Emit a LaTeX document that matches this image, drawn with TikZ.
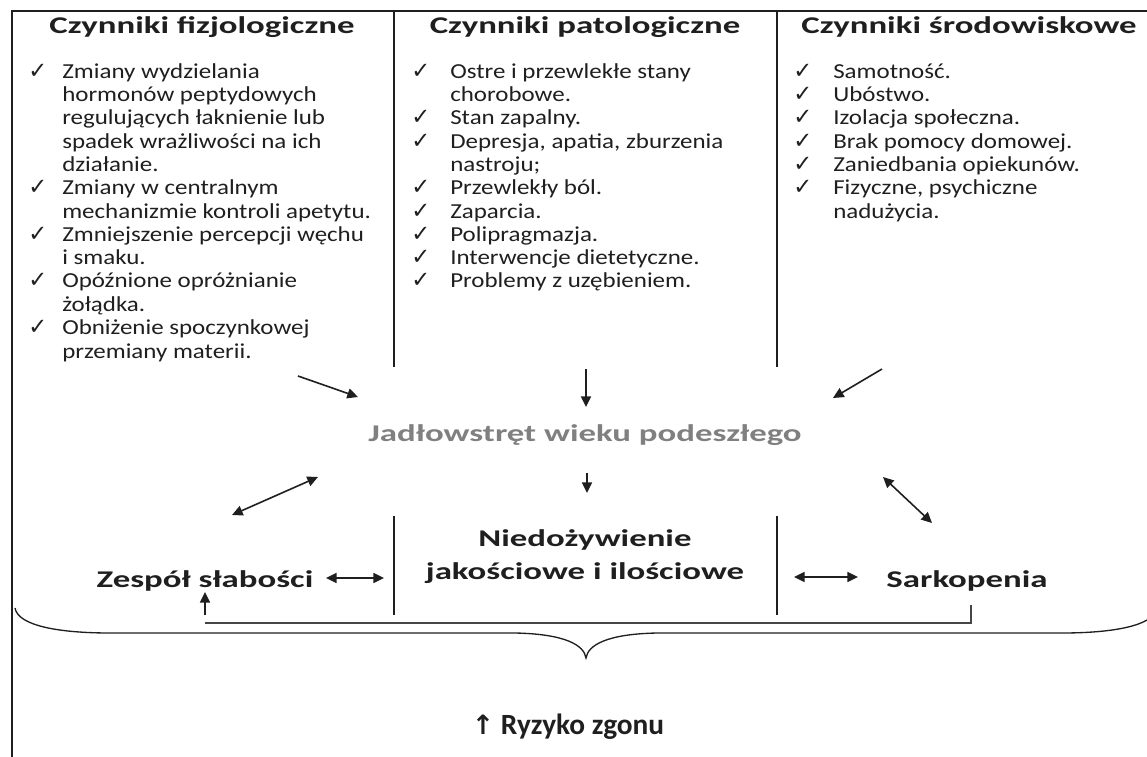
\documentclass[tikz,border=0pt]{standalone}
\usepackage{fontspec}
\setmainfont{Carlito}
\newfontfamily\bodyfont{Carlito}[FakeStretch=1.17]
\newfontfamily\widefont{Carlito}[FakeStretch=1.45]
\newfontfamily\symfont{DejaVu Sans}
\usetikzlibrary{arrows.meta}
\definecolor{ink}{HTML}{1F1F1F}
\definecolor{paleink}{HTML}{808080}
\definecolor{ruleink}{HTML}{454545}
\newcommand{\chk}{{\symfont\fontsize{17}{17}\selectfont ✓}}
\begin{document}
\begin{tikzpicture}[x=0.75pt, y=-0.75pt,
  every node/.style={inner sep=0pt, text=ink},
  head/.style={anchor=base, font=\widefont\bfseries\fontsize{18}{21}\selectfont},
  itemlist/.style={anchor=base west, font=\bodyfont\fontsize{16}{17.5}\selectfont},
  outcome/.style={align=center, font=\widefont\bfseries\fontsize{18}{24.75}\selectfont},
  frameline/.style={ink, line width=1.5pt},
  arr/.style={ink, line width=1.2pt, -{Triangle[length=8pt,width=7.5pt]}},
  darr/.style={ink, line width=1.2pt, {Triangle[length=8pt,width=7.5pt]}-{Triangle[length=8pt,width=7.5pt]}}]
  \useasboundingbox (0,0) rectangle (1147,757);
  \draw[frameline] (12,757) -- (12,11) -- (1147,11);
  \draw[frameline] (394,11) -- (394,367) (777,11) -- (777,367);
  \draw[ink, line width=1.2pt] (394,516) -- (394,615) (777,516) -- (777,615);

  \node[head] (fizjo) at (202,33) {Czynniki fizjologiczne};
  \node[head] (pato) at (585,33) {Czynniki patologiczne};
  \node[head] (srodo) at (969,33) {Czynniki środowiskowe};

  \node[itemlist] (fizjolist) at (28,78) {\begin{tabular}[t]{@{}p{25.5pt}@{}l@{}}
    \chk & Zmiany wydzielania\\
         & hormonów peptydowych\\
         & regulujących łaknienie lub\\
         & spadek wrażliwości na ich\\
         & działanie.\\
    \chk & Zmiany w centralnym\\
         & mechanizmie kontroli apetytu.\\
    \chk & Zmniejszenie percepcji węchu\\
         & i smaku.\\
    \chk & Opóźnione opróżnianie\\
         & żołądka.\\
    \chk & Obniżenie spoczynkowej\\
         & przemiany materii.
  \end{tabular}};
  \node[itemlist] (patolist) at (411,78) {\begin{tabular}[t]{@{}p{29.25pt}@{}l@{}}
    \chk & Ostre i przewlekłe stany\\
         & chorobowe.\\
    \chk & Stan zapalny.\\
    \chk & Depresja, apatia, zburzenia\\
         & nastroju;\\
    \chk & Przewlekły ból.\\
    \chk & Zaparcia.\\
    \chk & Polipragmazja.\\
    \chk & Interwencje dietetyczne.\\
    \chk & Problemy z uzębieniem.
  \end{tabular}};
  \node[itemlist] (srodolist) at (793,78) {\begin{tabular}[t]{@{}p{30pt}@{}l@{}}
    \chk & Samotność.\\
    \chk & Ubóstwo.\\
    \chk & Izolacja społeczna.\\
    \chk & Brak pomocy domowej.\\
    \chk & Zaniedbania opiekunów.\\
    \chk & Fizyczne, psychiczne\\
         & nadużycia.
  \end{tabular}};

  \node[outcome, anchor=base, text=paleink] (jadlo) at (585,441) {Jadłowstręt wieku podeszłego};
  \node[outcome] (niedo) at (585,557) {Niedożywienie\\jakościowe i ilościowe};
  \node[outcome, anchor=base] (zespol) at (205,587) {Zespół słabości};
  \node[outcome, anchor=base] (sarko) at (967,587) {Sarkopenia};
  \node[anchor=base, font=\bfseries\fontsize{22}{26}\selectfont] (ryzyko) at (568,734)
    {{\symfont\bfseries\fontsize{20}{22}\selectfont ↑}\hspace{5pt}Ryzyko zgonu};

  \coordinate (fizjoA) at (298,376);  \coordinate (fizjoB) at (358,397);
  \coordinate (patoA) at (586,369);   \coordinate (patoB) at (586,407);
  \coordinate (srodoA) at (882,369);  \coordinate (srodoB) at (833,398);
  \coordinate (jadloA) at (587,473);  \coordinate (jadloB) at (587,493);
  \coordinate (zespolA) at (232,515); \coordinate (zespolB) at (318,477);
  \coordinate (sarkoA) at (932,523);  \coordinate (sarkoB) at (883,477);
  \coordinate (zespolR) at (326,578); \coordinate (niedoL) at (384,578);
  \coordinate (niedoR) at (794,577);  \coordinate (sarkoL) at (858,577);
  \coordinate (zespolU) at (205,615); \coordinate (zespolT) at (205,592);
  \coordinate (sarkoD) at (971,605);  \coordinate (zespolD) at (205,623);

  \draw[arr] (fizjoA) -- (fizjoB);
  \draw[arr] (patoA) -- (patoB);
  \draw[arr] (srodoA) -- (srodoB);
  \draw[arr] (jadloA) -- (jadloB);
  \draw[darr] (zespolA) -- (zespolB);
  \draw[darr] (sarkoA) -- (sarkoB);
  \draw[darr] (zespolR) -- (niedoL);
  \draw[darr] (niedoR) -- (sarkoL);
  \draw[arr] (zespolU) -- (zespolT);
  \draw[ruleink, line width=1.2pt] (sarkoD) |- (zespolD);

  \draw[ink, line width=1pt] (15,608) .. controls (18,626) and (60,633) .. (110,633) -- (515,633)
    .. controls (565,634) and (584,645) .. (586,658)
    .. controls (588,645) and (607,634) .. (657,633) -- (1062,633)
    .. controls (1112,633) and (1154,626) .. (1157,608);
\end{tikzpicture}
\end{document}
